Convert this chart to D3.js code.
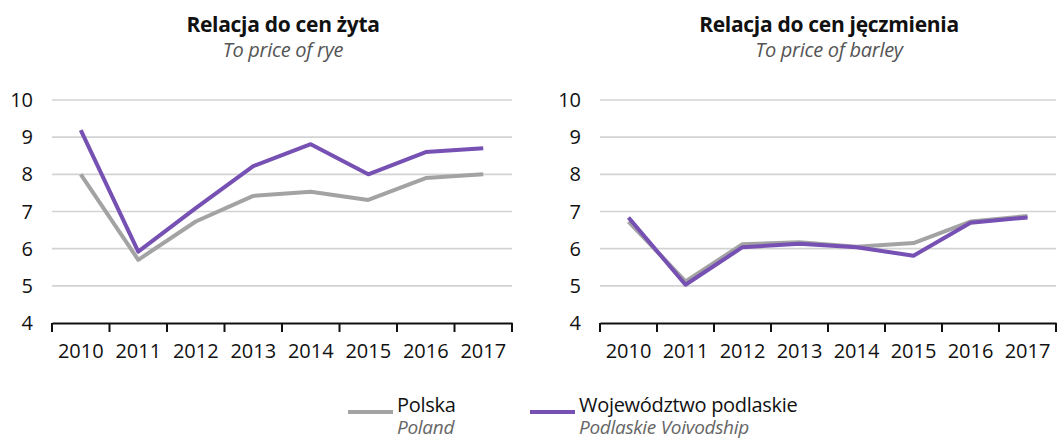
<!DOCTYPE html>
<html>
<head>
<meta charset="utf-8">
<script src="https://cdn.jsdelivr.net/npm/d3@7"></script>
<style>
  html, body { margin: 0; padding: 0; background: #fff; }
  svg { display: block; }
</style>
</head>
<body>
<svg id="chart" width="1064" height="439"></svg>
<script>
// Years on the horizontal axis
const years = ["2010", "2011", "2012", "2013", "2014", "2015", "2016", "2017"];
const yTicks = [4, 5, 6, 7, 8, 9, 10];

// Price relation to rye
const ryePolska    = [8.0, 5.7, 6.73, 7.42, 7.53, 7.31, 7.9, 8.0];
const ryePodlaskie = [9.19, 5.92, 7.09, 8.22, 8.81, 8.0, 8.6, 8.7];

// Price relation to barley
const barleyPolska    = [6.73, 5.12, 6.12, 6.17, 6.05, 6.15, 6.73, 6.88];
const barleyPodlaskie = [6.84, 5.03, 6.04, 6.13, 6.04, 5.81, 6.7, 6.84];

const seriesNames = ["Polska", "Województwo podlaskie"];
const seriesNamesEn = ["Poland", "Podlaskie Voivodship"];
const colors = ["#a3a3a3", "#7650b2"];

const panels = [
  { title: "Relacja do cen żyta", subtitle: "To price of rye",
    data: [ryePolska, ryePodlaskie], x0: 52, x1: 512, labelX: 33 },
  { title: "Relacja do cen jęczmienia", subtitle: "To price of barley",
    data: [barleyPolska, barleyPodlaskie], x0: 600, x1: 1056, labelX: 581 }
];

const svg = d3.select("#chart");
const font = "'Open Sans', 'Noto Sans', sans-serif";
const y = d3.scaleLinear().domain([4, 10]).range([323, 100]);

panels.forEach(p => {
  const g = svg.append("g");
  const x = d3.scaleBand().domain(years).range([p.x0, p.x1]);
  const cx = (p.x0 + p.x1) / 2 + 1;

  g.append("text").attr("x", cx).attr("y", 32)
    .attr("text-anchor", "middle")
    .style("font-family", font).style("font-weight", "700")
    .style("font-size", "21px").style("letter-spacing", "-0.3px")
    .attr("fill", "#111").text(p.title);
  g.append("text").attr("x", cx).attr("y", 57)
    .attr("text-anchor", "middle")
    .style("font-family", font).style("font-style", "italic")
    .style("font-size", "20px").style("letter-spacing", "-0.3px")
    .attr("fill", "#555").text(p.subtitle);

  // horizontal gridlines
  g.selectAll("line.grid").data(yTicks.filter(t => t > 4)).enter()
    .append("line").attr("class", "grid")
    .attr("x1", p.x0).attr("x2", p.x1)
    .attr("y1", d => y(d)).attr("y2", d => y(d))
    .attr("stroke", "#d3d3d3").attr("stroke-width", 1.6);

  // y tick labels
  g.selectAll("text.ylab").data(yTicks).enter()
    .append("text").attr("class", "ylab")
    .attr("x", p.labelX).attr("y", d => y(d) + 7)
    .attr("text-anchor", "end")
    .style("font-family", font).style("font-size", "20px")
    .attr("fill", "#111").text(d => d);

  // x axis
  const axis = g.append("g").attr("transform", `translate(0,${y(4)})`)
    .call(d3.axisBottom(x).tickSize(0).tickPadding(21));
  axis.select(".domain").attr("stroke", "#111").attr("stroke-width", 2);
  axis.selectAll("text").style("font-family", font).style("font-size", "20px")
    .attr("fill", "#111");
  const bounds = years.map(yr => x(yr)).concat([p.x1]);
  axis.selectAll("line.bound").data(bounds).enter()
    .append("line").attr("class", "bound")
    .attr("x1", d => d).attr("x2", d => d)
    .attr("y1", 0).attr("y2", 9)
    .attr("stroke", "#111").attr("stroke-width", 2);

  const line = d3.line()
    .x((d, i) => x(years[i]) + x.bandwidth() / 2)
    .y(d => y(d));

  p.data.forEach((vals, k) => {
    g.append("path").datum(vals)
      .attr("d", line).attr("fill", "none")
      .attr("stroke", colors[k]).attr("stroke-width", 4)
      .attr("stroke-linejoin", "round");
  });
});

// legend
const legendX = [348, 530];
seriesNames.forEach((name, k) => {
  const lg = svg.append("g").attr("transform", `translate(${legendX[k]},0)`);
  lg.append("line").attr("x1", 0).attr("x2", 45).attr("y1", 412).attr("y2", 412)
    .attr("stroke", colors[k]).attr("stroke-width", 4);
  lg.append("text").attr("x", 49).attr("y", 412)
    .style("font-family", font).style("font-size", "20px")
    .style("letter-spacing", "-0.3px")
    .attr("fill", "#111").text(name);
  lg.append("text").attr("x", 49).attr("y", 434)
    .style("font-family", font).style("font-style", "italic")
    .style("font-size", "19px").style("letter-spacing", "-0.3px")
    .attr("fill", "#666").text(seriesNamesEn[k]);
});
</script>
</body>
</html>
